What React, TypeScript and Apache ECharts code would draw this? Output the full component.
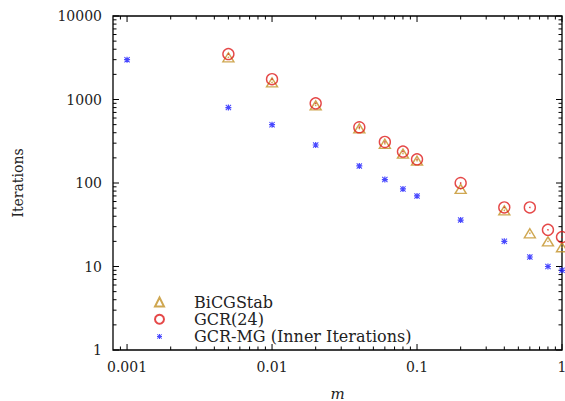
import React, { useEffect, useRef } from "react";
import * as echarts from "echarts";

// ---- data ----
const mValues = [0.001, 0.005, 0.01, 0.02, 0.04, 0.06, 0.08, 0.1, 0.2, 0.4, 0.6, 0.8, 1];
const bicgstab = [null, 3200, 1600, 850, 450, 295, 225, 185, 85, 47, 25, 20, 17];
const gcr24 = [null, 3500, 1750, 900, 465, 310, 238, 192, 100, 51, 51, 27.5, 22.5];
const gcrmg = [3000, 800, 500, 285, 160, 110, 85, 70, 36, 20, 13, 10, 9];

const xTickLabels = ["0.001", "0.01", "0.1", "1"];
const yTickLabels = ["1", "10", "100", "1000", "10000"];
const xMajorTicks = [0.001, 0.01, 0.1, 1];
const yMajorTicks = [1, 10, 100, 1000, 10000];
const minorMultipliers = [2, 3, 4, 5, 6, 7, 8, 9];
const X_MIN = 0.0008;
const X_MAX = 1;
const Y_MIN = 1;
const Y_MAX = 10000;

const FONT = "DejaVu Serif";
const GOLD = "#c39126";
const RED = "#de1a1a";
const BLUE = "#1a1aff";
const starShape =
  "M0 4H10V6H0Z M4 0H6V10H4Z M1.2 0L10 8.8L8.8 10L0 1.2Z M8.8 0L10 1.2L1.2 10L0 8.8Z";
const starPath = "path://" + starShape;
const starLegendPath = "path://M-4 -4L-4 -4Z M14 14L14 14Z " + starShape;

function pairs(vals: (number | null)[]) {
  const out: number[][] = [];
  vals.forEach((v, i) => {
    if (v != null) out.push([mValues[i], v]);
  });
  return out;
}

function labelFor(v: number, ticks: number[], labels: string[]) {
  for (let i = 0; i < ticks.length; i++) {
    if (Math.abs(Math.log10(v) - Math.log10(ticks[i])) < 1e-6) return labels[i];
  }
  return "";
}

// tick descriptors: [x, y, kind] kind 0 x-minor, 1 x-major, 2 y-minor, 3 y-major
function buildTicks() {
  const t: number[][] = [];
  const xDecades = [0.0001, 0.001, 0.01, 0.1];
  xMajorTicks.forEach((v) => t.push([v, 10, 1]));
  xDecades.forEach((d) =>
    minorMultipliers.forEach((m) => {
      const v = d * m;
      if (v > X_MIN * 1.001 && v < X_MAX * 0.999) t.push([v, 10, 0]);
    })
  );
  const yDecades = [1, 10, 100, 1000];
  yMajorTicks.forEach((v) => t.push([0.01, v, 3]));
  yDecades.forEach((d) =>
    minorMultipliers.forEach((m) => t.push([0.01, d * m, 2]))
  );
  return t;
}

const option: any = {
  animation: false,
  backgroundColor: "#fff",
  grid: {
    left: 113,
    right: 3,
    top: 16,
    bottom: 51,
    outerBoundsMode: "none",
    containLabel: false,
    show: true,
    borderColor: "#000",
    borderWidth: 1.3,
    backgroundColor: "transparent",
  },
  xAxis: {
    type: "log",
    logBase: 10,
    min: X_MIN,
    max: X_MAX,
    name: "m",
    nameLocation: "middle",
    nameGap: 36,
    nameTextStyle: { fontFamily: FONT, fontSize: 15, fontStyle: "italic", color: "#222" },
    axisLine: { show: false },
    axisTick: { show: false },
    splitLine: { show: false },
    axisLabel: {
      fontFamily: FONT,
      fontSize: 14,
      color: "#222",
      margin: 10,
      formatter: (v: number) => labelFor(v, xMajorTicks, xTickLabels),
    },
  },
  yAxis: {
    type: "log",
    logBase: 10,
    min: Y_MIN,
    max: Y_MAX,
    name: "Iterations",
    nameLocation: "middle",
    nameGap: 88,
    nameTextStyle: { fontFamily: FONT, fontSize: 14, color: "#222" },
    axisLine: { show: false },
    axisTick: { show: false },
    splitLine: { show: false },
    axisLabel: {
      fontFamily: FONT,
      fontSize: 14,
      color: "#222",
      margin: 11,
      formatter: (v: number) => labelFor(v, yMajorTicks, yTickLabels),
    },
  },
  legend: {
    orient: "vertical",
    left: 149,
    top: 289,
    itemWidth: 9,
    itemHeight: 9,
    itemGap: 1.2,
    data: [
      { name: "BiCGStab" },
      { name: "GCR(24)" },
      { name: "GCR-MG (Inner Iterations)", icon: starLegendPath },
    ],
    textStyle: {
      fontFamily: FONT,
      fontSize: 16,
      lineHeight: 16,
      color: "#222",
      padding: [0, 0, 0, 25],
    },
  },
  series: [
    {
      type: "custom",
      name: "ticks",
      silent: true,
      clip: false,
      z: 1,
      data: buildTicks(),
      renderItem: (params: any, api: any) => {
        const cs = params.coordSys;
        const kind = api.value(2);
        const p = api.coord([api.value(0), api.value(1)]);
        const style = { stroke: "#000", lineWidth: 1 };
        if (kind <= 1) {
          const L = kind === 1 ? 6 : 3.5;
          return {
            type: "group",
            children: [
              { type: "line", shape: { x1: p[0], y1: cs.y + cs.height, x2: p[0], y2: cs.y + cs.height - L }, style },
              { type: "line", shape: { x1: p[0], y1: cs.y, x2: p[0], y2: cs.y + L }, style },
            ],
          };
        }
        const L = kind === 3 ? 6 : 3.5;
        return {
          type: "group",
          children: [
            { type: "line", shape: { x1: cs.x, y1: p[1], x2: cs.x + L, y2: p[1] }, style },
            { type: "line", shape: { x1: cs.x + cs.width, y1: p[1], x2: cs.x + cs.width - L, y2: p[1] }, style },
          ],
        };
      },
    },
    {
      type: "scatter",
      name: "BiCGStab",
      symbol: "triangle",
      symbolSize: [11, 9],
      itemStyle: { color: "rgba(0,0,0,0)", borderColor: GOLD, borderWidth: 1.4 },
      data: pairs(bicgstab),
      z: 3,
    },
    {
      type: "scatter",
      name: "BiCGStab dots",
      symbol: "circle",
      symbolSize: 1.6,
      silent: true,
      itemStyle: { color: GOLD },
      data: pairs(bicgstab),
      z: 3,
    },
    {
      type: "scatter",
      name: "GCR(24)",
      symbol: "circle",
      symbolSize: 11,
      itemStyle: { color: "rgba(0,0,0,0)", borderColor: RED, borderWidth: 1.4 },
      data: pairs(gcr24),
      z: 4,
    },
    {
      type: "scatter",
      name: "GCR(24) dots",
      symbol: "circle",
      symbolSize: 1.6,
      silent: true,
      itemStyle: { color: RED },
      data: pairs(gcr24),
      z: 4,
    },
    {
      type: "scatter",
      name: "GCR-MG (Inner Iterations)",
      symbol: starPath,
      symbolSize: 6,
      itemStyle: { color: BLUE },
      data: pairs(gcrmg),
      z: 5,
    },
  ],
};

export default function App() {
  const ref = useRef<HTMLDivElement>(null);
  useEffect(() => {
    document.body.style.margin = "0";
    const chart = echarts.init(ref.current!, null, { renderer: "svg" });
    chart.setOption(option);
    return () => chart.dispose();
  }, []);
  return <div ref={ref} style={{ width: 565, height: 401 }} />;
}
